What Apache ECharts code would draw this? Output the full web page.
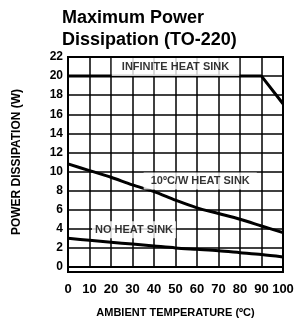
<!DOCTYPE html>
<html><head><meta charset="utf-8">
<script src="https://cdn.jsdelivr.net/npm/echarts@6/dist/echarts.min.js"></script>
<style>html,body{margin:0;padding:0;background:#fff;}#c{width:298px;height:323px;}</style>
</head><body><div id="c"></div>
<script>
const temps = [0,10,20,30,40,50,60,70,80,90,100];
const infiniteSink = [[0,20],[90,20],[100,17.1]];
const sink10 = [10.8,10.1,9.4,8.6,7.9,7.0,6.2,5.6,5.0,4.3,3.6];
const noSink = [3.0,2.8,2.6,2.4,2.2,2.0,1.85,1.7,1.5,1.3,1.05];
const curveLabelNames = ['INFINITE HEAT SINK','10ºC/W HEAT SINK','NO HEAT SINK'];
const curveLabelX = [50, 61.5, 30.7];
const curveLabelY = [21, 9, 3.9];
const yTicks = [0,2,4,6,8,10,12,14,16,18,20,22];
const xTicks = temps;

const pads = [[4,10,4,10],[3,7,3,7],[3,3,3,3]];
const chart = echarts.init(document.getElementById('c'), null, {renderer:'canvas'});
const lineStyle = {color:'#000', width:3};
const labelSeries = curveLabelNames.map((n,i)=>({
  type:'scatter', symbolSize:0, itemStyle:{color:'rgba(0,0,0,0)'}, z:4,
  data:[{value:[curveLabelX[i], curveLabelY[i]], name:n}],
  label:{show:true, position:'inside', formatter:n, color:'#000',
    fontFamily:'Liberation Sans, Arial', fontWeight:'bold', fontSize:11,
    backgroundColor:'#fff', padding:pads[i]}
}));
chart.setOption({
  animation:false,
  title:{text:'Maximum Power\nDissipation (TO-220)', left:57, top:2,
    textStyle:{fontFamily:'Liberation Sans, Arial', fontWeight:'bold', fontSize:18, lineHeight:22, color:'#000'}},
  grid:{left:68, right:15, top:57, bottom:51, containLabel:false},
  xAxis:{type:'value', min:0, max:100, interval:10,
    name:'AMBIENT TEMPERATURE (ºC)', nameLocation:'middle', nameGap:40,
    nameTextStyle:{fontFamily:'Liberation Sans, Arial', fontWeight:'bold', fontSize:11, color:'#000'},
    axisLine:{show:true, lineStyle:{color:'#000', width:2}},
    axisTick:{show:false},
    axisLabel:{margin:16, fontFamily:'Liberation Sans, Arial', fontWeight:'bold', fontSize:13, color:'#000'},
    splitLine:{show:true, lineStyle:{color:'#000', width:1.5}}
  },
  yAxis:{type:'value', min:0, max:22, interval:2,
    name:'POWER DISSIPATION (W)', nameLocation:'middle', nameGap:45, nameRotate:90,
    nameTextStyle:{fontFamily:'Liberation Sans, Arial', fontWeight:'bold', fontSize:12, color:'#000'},
    axisLine:{show:true, lineStyle:{color:'#000', width:2}},
    axisTick:{show:false},
    axisLabel:{margin:5, fontFamily:'Liberation Sans, Arial', fontWeight:'bold', fontSize:12, color:'#000'},
    splitLine:{show:true, lineStyle:{color:'#000', width:1.5}}
  },
  series:[
    {type:'line', data:infiniteSink, symbol:'none', lineStyle:lineStyle, z:3},
    {type:'line', data:temps.map((t,i)=>[t,sink10[i]]), symbol:'none', smooth:0.3, lineStyle:lineStyle, z:3},
    {type:'line', data:temps.map((t,i)=>[t,noSink[i]]), symbol:'none', smooth:0.3, lineStyle:lineStyle, z:3}
  ].concat(labelSeries),
  graphic:[{type:'rect', shape:{x:68,y:57,width:215,height:215}, style:{fill:'none', stroke:'#000', lineWidth:2}, z:10, silent:true}]
});
</script></body></html>
